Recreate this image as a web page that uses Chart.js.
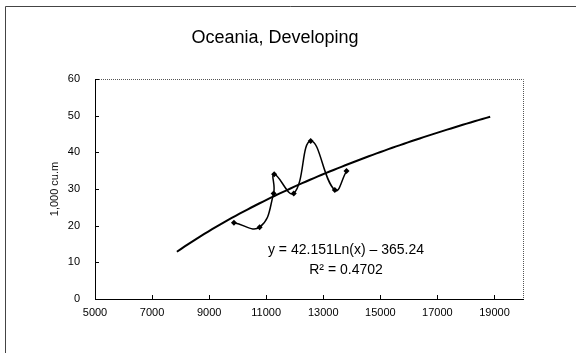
<!DOCTYPE html>
<html>
<head>
<meta charset="utf-8">
<script src="https://cdn.jsdelivr.net/npm/chart.js@4.4.1/dist/chart.umd.min.js"></script>
<style>
  html, body { margin: 0; padding: 0; background: #ffffff; }
  #wrap { width: 576px; height: 353px; }
</style>
</head>
<body>
<div id="wrap"><canvas id="c" width="576" height="353"></canvas></div>
<script>
// Observed annual values (x: income, y: thousand cubic metres)
const obsX = [9870, 10770, 11260, 11280, 11965, 12560, 13405, 13815];
const obsY = [20.8, 19.6, 28.8, 34.0, 28.8, 43.1, 29.7, 34.9];

// Logarithmic trend y = a*ln(x) + b and its fit statistic
const trendA = 42.151;
const trendB = -365.24;
const trendR2 = 0.4702;
const trendFrom = 7870;
const trendTo = 18850;

// Axis ticks
const xTickValues = [5000, 7000, 9000, 11000, 13000, 15000, 17000, 19000];
const yTickValues = [0, 10, 20, 30, 40, 50, 60];

const chartTitle = 'Oceania, Developing';
const yAxisTitle = '1,000 cu.m';

const observed = obsX.map((x, i) => ({ x: x, y: obsY[i] }));
const trend = [];
const steps = 80;
for (let i = 0; i <= steps; i++) {
  const x = trendFrom + (trendTo - trendFrom) * i / steps;
  trend.push({ x: x, y: trendA * Math.log(x) + trendB });
}

const FONT = "'Liberation Sans', Arial, Helvetica, sans-serif";

// Frame, plot border, inside tick marks, title and trend equation
const decorations = {
  id: 'decorations',
  beforeDraw(chart) {
    const ctx = chart.ctx;
    ctx.save();
    ctx.fillStyle = '#ffffff';
    ctx.fillRect(0, 0, chart.width, chart.height);
    ctx.restore();
  },
  afterDatasetsDraw(chart) {
    const ctx = chart.ctx;
    const a = chart.chartArea;
    const xs = chart.scales.x, ys = chart.scales.y;
    ctx.save();
    // outer frame (top and left edges)
    ctx.strokeStyle = '#444';
    ctx.lineWidth = 1;
    ctx.beginPath();
    ctx.moveTo(5.5, 353);
    ctx.lineTo(5.5, 6.5);
    ctx.lineTo(576, 6.5);
    ctx.stroke();
    // plot area top and right edges, dotted
    ctx.strokeStyle = '#555';
    ctx.setLineDash([1, 1]);
    ctx.beginPath();
    ctx.moveTo(a.left, Math.round(a.top) + 0.5);
    ctx.lineTo(Math.round(a.right) + 0.5, Math.round(a.top) + 0.5);
    ctx.lineTo(Math.round(a.right) + 0.5, a.bottom);
    ctx.stroke();
    ctx.setLineDash([]);
    // inside tick marks
    ctx.strokeStyle = '#000';
    ctx.beginPath();
    xTickValues.forEach(v => {
      const px = Math.round(xs.getPixelForValue(v)) + 0.5;
      ctx.moveTo(px, a.bottom);
      ctx.lineTo(px, a.bottom - 4);
    });
    yTickValues.forEach(v => {
      const py = Math.round(ys.getPixelForValue(v)) + 0.5;
      ctx.moveTo(a.left, py);
      ctx.lineTo(a.left + 4, py);
    });
    ctx.stroke();
    // title
    ctx.fillStyle = '#000';
    ctx.textAlign = 'center';
    ctx.textBaseline = 'middle';
    ctx.font = '18px ' + FONT;
    ctx.fillText(chartTitle, 275, 38);
    // trend equation
    ctx.font = '14px ' + FONT;
    const eq = 'y = ' + trendA.toFixed(3) + 'Ln(x) \u2013 ' + Math.abs(trendB).toFixed(2);
    ctx.fillText(eq, 346, 250);
    ctx.fillText('R\u00B2 = ' + trendR2.toFixed(4), 346, 270);
    ctx.restore();
  }
};

new Chart(document.getElementById('c'), {
  type: 'scatter',
  data: {
    datasets: [
      {
        label: 'trend',
        data: trend,
        showLine: true,
        borderColor: '#000',
        borderWidth: 2,
        pointRadius: 0,
        tension: 0,
        order: 2
      },
      {
        label: 'observed',
        data: observed,
        showLine: true,
        borderColor: '#000',
        borderWidth: 1.5,
        backgroundColor: '#000',
        pointStyle: 'rectRot',
        pointRadius: 3,
        pointBorderWidth: 0,
        tension: 0.45,
        order: 1
      }
    ]
  },
  options: {
    responsive: false,
    animation: false,
    devicePixelRatio: 1,
    layout: { padding: { left: 0, right: 53, top: 79, bottom: 0 } },
    plugins: {
      legend: { display: false },
      tooltip: { enabled: false },
      title: { display: false }
    },
    scales: {
      x: {
        type: 'linear',
        min: 5000,
        max: 20000,
        afterBuildTicks(scale) {
          scale.ticks = xTickValues.map(v => ({ value: v }));
        },
        afterFit(scale) { scale.height = 54; },
        grid: { display: false, drawTicks: false },
        border: { display: true, color: '#000', width: 1 },
        ticks: {
          padding: 7,
          color: '#000',
          font: { family: FONT, size: 11 },
          maxRotation: 0,
          autoSkip: false,
          callback: v => String(v)
        }
      },
      y: {
        type: 'linear',
        min: 0,
        max: 60,
        afterBuildTicks(scale) {
          scale.ticks = yTickValues.map(v => ({ value: v }));
        },
        afterFit(scale) { scale.width = 95; },
        grid: { display: false, drawTicks: false },
        border: { display: true, color: '#000', width: 1 },
        title: {
          display: true,
          text: yAxisTitle,
          color: '#111',
          font: { family: FONT, size: 11 },
          padding: { top: 48, bottom: 0 }
        },
        ticks: {
          padding: 15,
          color: '#000',
          font: { family: FONT, size: 11 },
          callback: v => String(v)
        }
      }
    }
  },
  plugins: [decorations]
});
</script>
</body>
</html>
